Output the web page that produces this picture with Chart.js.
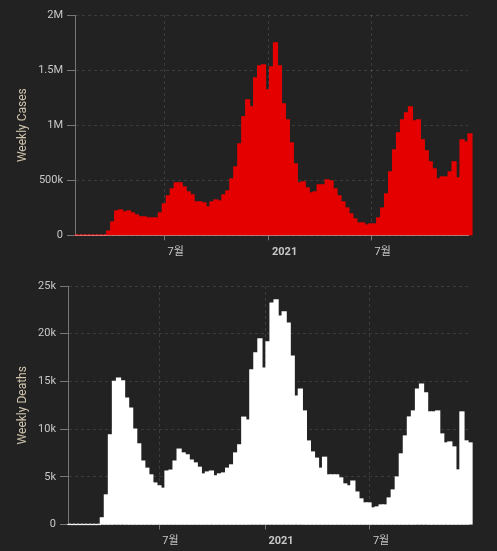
<!DOCTYPE html>
<html>
<head>
<meta charset="utf-8">
<script src="https://cdn.jsdelivr.net/npm/chart.js@4.4.0/dist/chart.umd.min.js"></script>
<style>
  body { margin: 0; background: #222; }
  canvas { display: block; }
</style>
</head>
<body>
<canvas id="casesChart" width="497" height="262"></canvas>
<canvas id="deathsChart" width="497" height="289"></canvas>
<script>
// Weekly totals, one value per week, first week starts on weekStart
const weekStart = '2020-01-25';

const weeklyCases = [
    0, 0, 0, 0, 0, 0, 0, 0,
    39000, 121000, 221000, 230000, 212000, 221000, 203000, 185000, 167000, 167000,
    158000, 158000, 158000, 203000, 285000, 358000, 421000, 476000, 476000, 439000,
    394000, 367000, 303000, 303000, 294000, 258000, 303000, 321000, 312000, 367000,
    403000, 512000, 621000, 830000, 1076000, 1230000, 1167000, 1430000, 1539000, 1548000,
    1321000, 1530000, 1748000, 1539000, 1194000, 1048000, 839000, 648000, 476000, 485000,
    430000, 385000, 394000, 458000, 458000, 503000, 494000, 421000, 358000, 303000,
    248000, 194000, 148000, 112000, 112000, 94000, 103000, 103000, 158000, 248000,
    376000, 576000, 776000, 930000, 1048000, 1112000, 1167000, 1039000, 1048000, 867000,
    767000, 667000, 603000, 512000, 530000, 530000, 576000, 667000, 521000, 867000,
    848000, 921000
];

const weeklyDeaths = [
    0, 0, 0, 0, 0, 0, 0, 0,
    700, 3100, 9400, 15000, 15350, 15050, 13250, 12200, 10000, 8450,
    6650, 5900, 5200, 4350, 4050, 3800, 5600, 5700, 6650, 7900,
    7500, 7300, 6750, 6450, 6000, 5300, 5500, 5600, 5100, 5300,
    5400, 5900, 6250, 7500, 8350, 11250, 10950, 16200, 18000, 19450,
    16400, 19150, 23200, 23550, 21850, 22300, 21100, 17650, 13450, 14200,
    11900, 8750, 7600, 6950, 5900, 7050, 5200, 5200, 5200, 4880,
    4250, 4050, 4550, 3400, 2680, 2260, 2260, 1740, 1840, 2050,
    2050, 2780, 3620, 4980, 7400, 9280, 11270, 11900, 14200, 14730,
    13790, 11800, 11800, 11900, 9490, 8550, 8650, 8130, 5720, 11800,
    8760, 8550
];

const tickDates = ['2020-07-01', '2021-01-01', '2021-07-01'];
const tickLabels = ['7월', '2021', '7월'];
const majorTick = '2021';

const fontFamily = "Roboto, 'Noto Sans CJK KR', sans-serif";
const labelColor = '#c8c8c8';
const titleColor = '#cfc4ae';
const gridColor = 'rgba(255,255,255,0.12)';
const axisColor = '#777';

function daysSinceStart(dateStr) {
    return (Date.parse(dateStr) - Date.parse(weekStart)) / 86400000;
}

function formatCount(v) {
    if (v >= 1000000) return (v / 1000000) + 'M';
    if (v >= 1000) return (v / 1000) + 'k';
    return String(v);
}

function buildChart(canvasId, title, values, barColor, zeroColor, yMax, yStep, axisWidth, axisHeight, padding) {
    // bar k covers days [7k, 7k+7]
    const bars = values.map((v, k) => ({ x: k * 7 + 3.5, y: v }));
    const zeroMarks = values.map((v, k) => ({ x: k * 7 + 3.5, y: v === 0 ? 0 : null }));
    const tickDays = tickDates.map(daysSinceStart);

    return new Chart(document.getElementById(canvasId), {
        type: 'bar',
        data: {
            datasets: [{
                type: 'line',
                data: zeroMarks,
                showLine: false,
                pointStyle: 'rect',
                pointRadius: 1.42,
                pointBorderWidth: 0,
                pointBackgroundColor: zeroColor,
                order: 0
            }, {
                data: bars,
                backgroundColor: barColor,
                barPercentage: 1,
                categoryPercentage: 1,
                inflateAmount: 0.6,
                clip: false,
                order: 1
            }]
        },
        options: {
            responsive: false,
            animation: false,
            devicePixelRatio: 1,
            layout: { padding: padding },
            plugins: {
                legend: { display: false },
                tooltip: { enabled: false }
            },
            scales: {
                x: {
                    type: 'linear',
                    offset: false,
                    min: 0,
                    max: (values.length - 1) * 7,
                    afterBuildTicks: function(scale) {
                        scale.ticks = tickDays.map((value, i) => ({ value: value, major: tickLabels[i] === majorTick }));
                    },
                    afterFit: function(scale) { scale.height = axisHeight; },
                    ticks: {
                        autoSkip: false,
                        maxRotation: 0,
                        align: 'start',
                        labelOffset: 3,
                        padding: 5,
                        color: labelColor,
                        callback: (value, index) => tickLabels[index],
                        font: ctx => ({
                            family: fontFamily,
                            size: 11,
                            weight: ctx.tick && ctx.tick.major ? 'bold' : 'normal'
                        })
                    },
                    grid: {
                        offset: false,
                        color: gridColor,
                        tickColor: axisColor,
                        tickLength: 5
                    },
                    border: {
                        color: 'rgba(255,255,255,0.4)',
                        dash: [3, 3],
                        z: 1
                    }
                },
                y: {
                    min: 0,
                    max: yMax,
                    afterFit: function(scale) { scale.width = axisWidth; },
                    ticks: {
                        stepSize: yStep,
                        padding: 4,
                        color: labelColor,
                        font: { family: fontFamily, size: 11 },
                        callback: formatCount
                    },
                    grid: {
                        color: gridColor,
                        tickColor: axisColor,
                        tickLength: 8
                    },
                    border: {
                        color: axisColor,
                        dash: [3, 3]
                    },
                    title: {
                        display: true,
                        text: title,
                        color: titleColor,
                        font: { family: fontFamily, size: 12 },
                        padding: { top: 16, bottom: 0 }
                    }
                }
            }
        }
    });
}

buildChart('casesChart', 'Weekly Cases', weeklyCases, '#e50000', '#d33', 2000000, 500000, 75, 26.7,
    { top: 15, right: 29, bottom: 0, left: 0 });
buildChart('deathsChart', 'Weekly Deaths', weeklyDeaths, '#ffffff', '#bbb', 25000, 5000, 68, 26.5,
    { top: 24, right: 29, bottom: 0, left: 0 });
</script>
</body>
</html>
